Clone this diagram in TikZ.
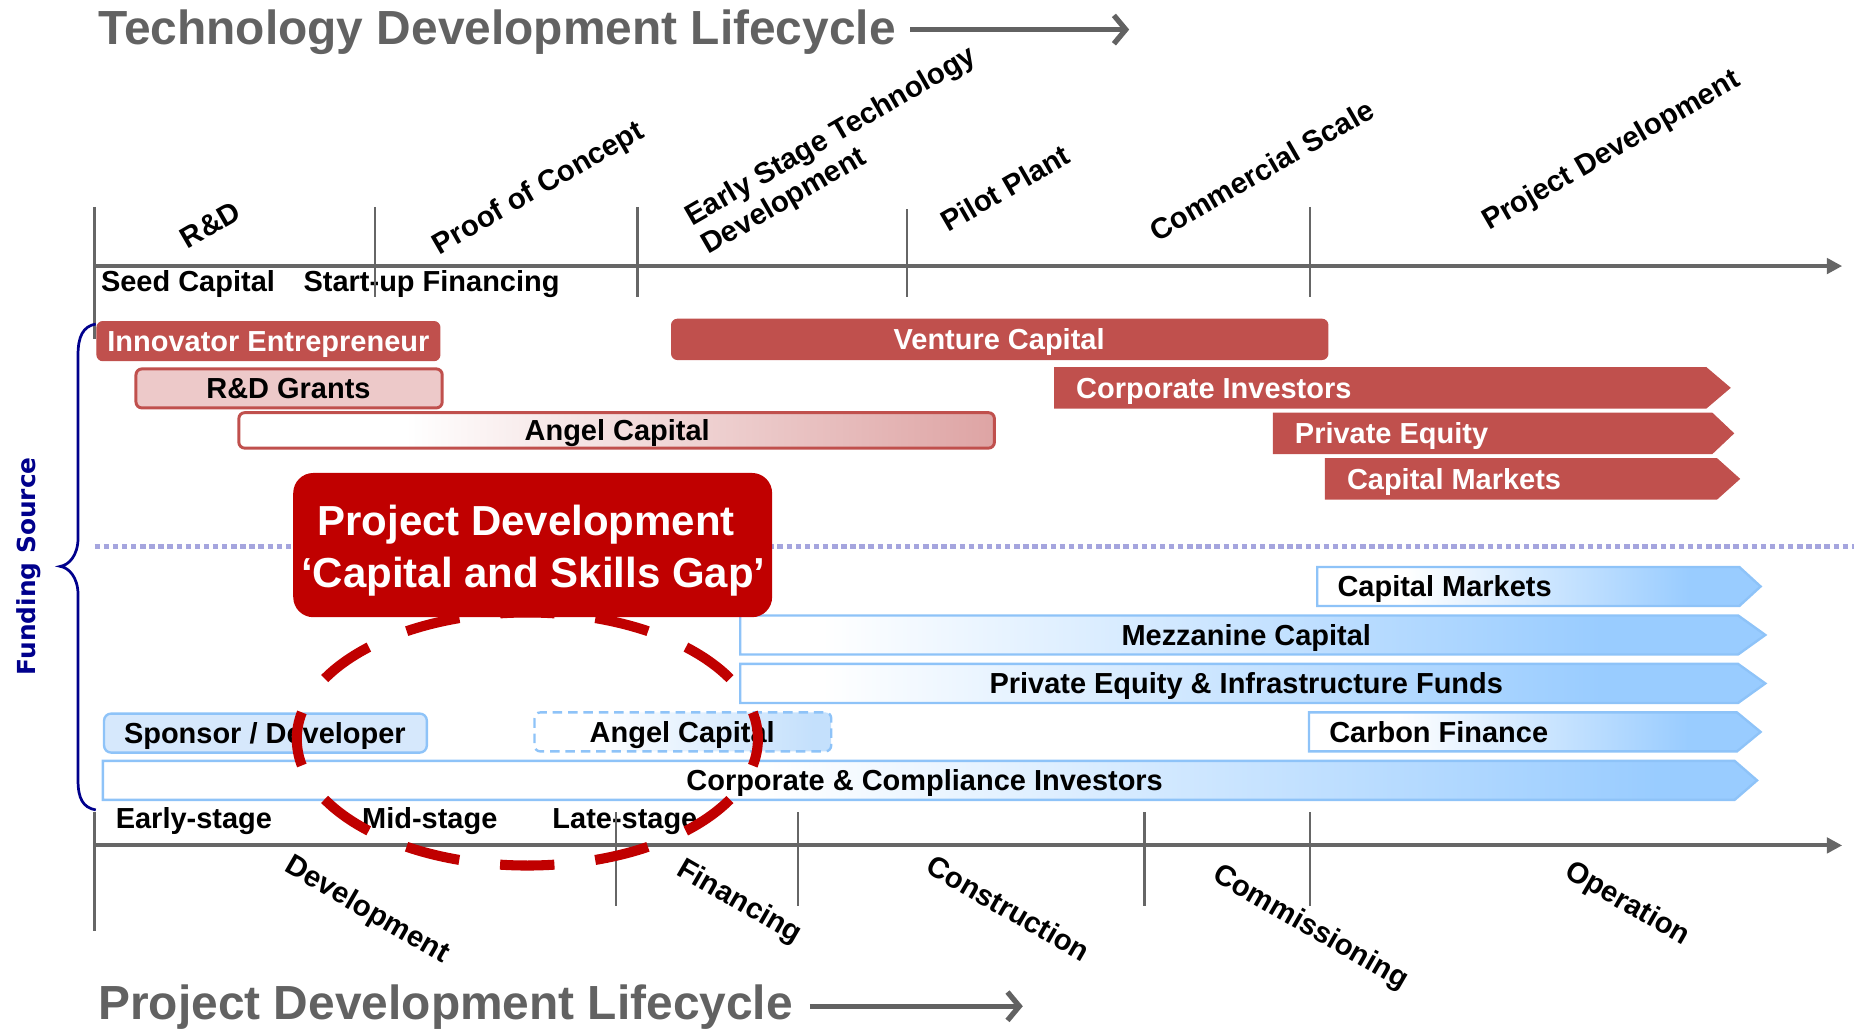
\documentclass[tikz,border=0pt]{standalone}
\usepackage{fontspec}
\setmainfont{Liberation Sans}
\newfontfamily\dejavu{DejaVu Sans}
\usetikzlibrary{arrows.meta}
\definecolor{barred}{RGB}{192,80,77}
\definecolor{gapred}{RGB}{192,0,0}
\definecolor{pinkfill}{RGB}{237,201,201}
\definecolor{pinkend}{RGB}{222,164,164}
\definecolor{bluefill}{RGB}{153,204,255}
\definecolor{bluebd}{RGB}{142,195,248}
\definecolor{sponsorfill}{RGB}{214,232,252}
\definecolor{angelblue}{RGB}{196,224,252}
\definecolor{axisgray}{RGB}{102,102,102}
\definecolor{titlegray}{RGB}{98,98,98}
\definecolor{navyblue}{RGB}{0,0,140}
\definecolor{dotblue}{RGB}{165,165,222}
\pgfdeclarehorizontalshading{bgA}{100bp}{color(0bp)=(white); color(35bp)=(white); color(67bp)=(bluefill); color(100bp)=(bluefill)}
\pgfdeclarehorizontalshading{bgM}{100bp}{color(0bp)=(white); color(29bp)=(white); color(67bp)=(bluefill); color(100bp)=(bluefill)}
\pgfdeclarehorizontalshading{bgC}{100bp}{color(0bp)=(white); color(45bp)=(white); color(72bp)=(bluefill); color(100bp)=(bluefill)}
\pgfdeclarehorizontalshading{bgAngel}{100bp}{color(0bp)=(white); color(35bp)=(white); color(72bp)=(angelblue); color(100bp)=(angelblue)}
\pgfdeclarehorizontalshading{rgAngel}{100bp}{color(0bp)=(white); color(36bp)=(white); color(75bp)=(pinkend); color(100bp)=(pinkend)}
\begin{document}
\begin{tikzpicture}[x=1pt,y=-1pt,
  lbl/.style={font=\fontsize{24.5}{28}\selectfont\bfseries, inner sep=0pt, text height=17.5pt, text depth=0pt},
  wlbl/.style={lbl, text=white},
  rlbl/.style={font=\fontsize{24.8}{28}\selectfont\bfseries, inner sep=0pt},
  ttl/.style={font=\fontsize{40.5}{46}\selectfont\bfseries, text=titlegray, inner sep=0pt, anchor=base west},
  gapt/.style={font=\fontsize{35.5}{43}\selectfont\bfseries, text=white, inner sep=0pt, anchor=base},
  axisline/.style={draw=axisgray, line width=3.4pt, -{Triangle[length=13pt,width=13pt]}},
  tick/.style={draw=axisgray, line width=2.2pt},
  ttlarrow/.style={draw=titlegray, line width=4.5pt, -{Straight Barb[length=10pt,width=24pt]}},
  redbar/.style={fill=barred, draw=barred, line width=1pt},
  bluebar/.style={draw=bluebd, line width=2pt},
]
\useasboundingbox (0,0) rectangle (1568,870.3);

% titles
\node[ttl] (ttop) at (83,38) {Technology Development Lifecycle};
\coordinate (ta1) at (770,25);
\coordinate (ta2) at (955,25);
\draw[ttlarrow] (ta1) -- (ta2);
\node[ttl] (tbot) at (83,862) {Project Development Lifecycle};
\coordinate (tb1) at (685,851);
\coordinate (tb2) at (865,851);
\draw[ttlarrow] (tb1) -- (tb2);

% top axis labels
\node[rlbl, rotate=30] (lrd) at (178,190) {R\&D};
\node[rlbl, rotate=30] (lpoc) at (456,160) {Proof of Concept};
\node[rlbl, rotate=30, align=left] (lest) at (710,128) {Early Stage Technology\\Development};
\node[rlbl, rotate=30] (lpp) at (850,159) {Pilot Plant};
\node[rlbl, rotate=30] (lcs) at (1067,144) {Commercial Scale};
\node[rlbl, rotate=30] (lpd) at (1363,128) {Project Development};
\node[lbl] (seed) at (159,238) {Seed Capital};
\node[lbl] (startup) at (365,238) {Start-up Financing};

% top axis
\coordinate (axl) at (80,225);
\coordinate (axr) at (1558,225);
\draw[axisline] (axl) -- (axr);
\draw[tick] (80,175) -- (80,287);
\draw[tick] (317,175) -- (317,251);
\draw[tick] (539,175) -- (539,251);
\draw[tick] (767,177) -- (767,251);
\draw[tick] (1108,175) -- (1108,251);

% red bars
\draw[redbar, rounded corners=5pt] (82,272) rectangle (372,305);
\node[wlbl] (innov) at (227,288.5) {Innovator Entrepreneur};
\draw[fill=pinkfill, draw=barred, line width=2.5pt, rounded corners=5pt] (115,312) rectangle (374,345);
\node[lbl] (rdg) at (244,328.5) {R\&D Grants};
\shadedraw[shading=rgAngel, draw=barred, line width=2.5pt, rounded corners=5pt] (202,349) rectangle (841,379);
\node[lbl] (angr) at (522,364) {Angel Capital};
\draw[redbar, rounded corners=5pt] (568,270) rectangle (1123,304);
\node[wlbl] (vc) at (845,286.5) {Venture Capital};
\draw[redbar] (892,311) -- (1443,311) -- (1463,328) -- (1443,345) -- (892,345) -- cycle;
\node[wlbl, anchor=west] (corpinv) at (910,328) {Corporate Investors};
\draw[redbar] (1077,349.5) -- (1448,349.5) -- (1466,366.5) -- (1448,383.5) -- (1077,383.5) -- cycle;
\node[wlbl, anchor=west] (pe) at (1095,366.5) {Private Equity};
\draw[redbar] (1121,388) -- (1452,388) -- (1471,405) -- (1452,422) -- (1121,422) -- cycle;
\node[wlbl, anchor=west] (capmr) at (1139,405) {Capital Markets};

% dotted separator
\coordinate (dl) at (80,462);
\coordinate (dr) at (1568,462);
\draw[dotblue, line width=4.5pt, dash pattern=on 4.6pt off 3.1pt] (dl) -- (dr);

% blue bars
\shadedraw[bluebar, shading=bgA] (1114,479.5) -- (1471,479.5) -- (1489,496) -- (1471,512.5) -- (1114,512.5) -- cycle;
\node[lbl, anchor=west] (capmb) at (1131,496) {Capital Markets};
\shadedraw[bluebar, shading=bgM] (626,520.5) -- (1470,520.5) -- (1493,537) -- (1470,553.5) -- (626,553.5) -- cycle;
\node[lbl] (mezz) at (1054,537) {Mezzanine Capital};
\shadedraw[bluebar, shading=bgM] (626,561.5) -- (1470,561.5) -- (1493,578) -- (1470,594.5) -- (626,594.5) -- cycle;
\node[lbl] (peinf) at (1054,578) {Private Equity \& Infrastructure Funds};
\shadedraw[bluebar, shading=bgA] (1107,602.5) -- (1469,602.5) -- (1489,619) -- (1469,635.5) -- (1107,635.5) -- cycle;
\node[lbl, anchor=west] (carbon) at (1124,619) {Carbon Finance};
\shadedraw[bluebar, shading=bgC] (87,643.5) -- (1467,643.5) -- (1486,660) -- (1467,676.5) -- (87,676.5) -- cycle;
\node[lbl] (corpcomp) at (782,660) {Corporate \& Compliance Investors};
\draw[bluebar, fill=sponsorfill, rounded corners=6pt] (88,603.5) rectangle (361,636.5);
\node[lbl] (sponsor) at (224,620) {Sponsor / Developer};
\shadedraw[bluebar, shading=bgAngel, dash pattern=on 8pt off 5pt, rounded corners=5pt] (452,602.5) rectangle (703,635.5);
\node[lbl] (angb) at (577,619) {Angel Capital};

% bottom axis
\node[lbl] (early) at (164,692) {Early-stage};
\node[lbl] (mid) at (363.5,692) {Mid-stage};
\node[lbl] (late) at (528.5,692) {Late-stage};
\coordinate (bxl) at (80,715);
\coordinate (bxr) at (1558,715);
\draw[axisline] (bxl) -- (bxr);
\draw[tick] (80,687) -- (80,787);
\draw[tick] (521,687) -- (521,766);
\draw[tick] (675,687) -- (675,766);
\draw[tick] (968,687) -- (968,766);
\draw[tick] (1108,687) -- (1108,766);
\node[rlbl, rotate=-30] (ldev) at (310,770) {Development};
\node[rlbl, rotate=-30] (lfin) at (625,763) {Financing};
\node[rlbl, rotate=-30] (lcon) at (853,768) {Construction};
\node[rlbl, rotate=-30] (lcom) at (1108,785) {Commissioning};
\node[rlbl, rotate=-30] (lop) at (1376,765) {Operation};

% gap ellipse and callout
\draw[gapred, line width=8.5pt, dash pattern=on 46pt off 34.75pt, dash phase=23pt] (446,625) ellipse [x radius=195pt, y radius=107pt];
\fill[gapred, rounded corners=17pt] (248,400) rectangle (653,522);
\node[gapt] (gap1) at (445,453) {Project Development};
\node[gapt] (gap2) at (451,496.5) {‘Capital and Skills Gap’};

% brace and funding source
\draw[navyblue, line width=2.3pt] (81,274) .. controls (70,276) and (66,285) .. (66,300) -- (66,455) .. controls (66,470) and (58,478) .. (51,479) .. controls (58,480) and (66,488) .. (66,503) -- (66,660) .. controls (66,675) and (70,683) .. (81,685);
\node[font=\dejavu\bfseries\fontsize{21}{25}\selectfont, text=navyblue, rotate=90, inner sep=0pt] (fs) at (24,479) {Funding Source};
\end{tikzpicture}
\end{document}
